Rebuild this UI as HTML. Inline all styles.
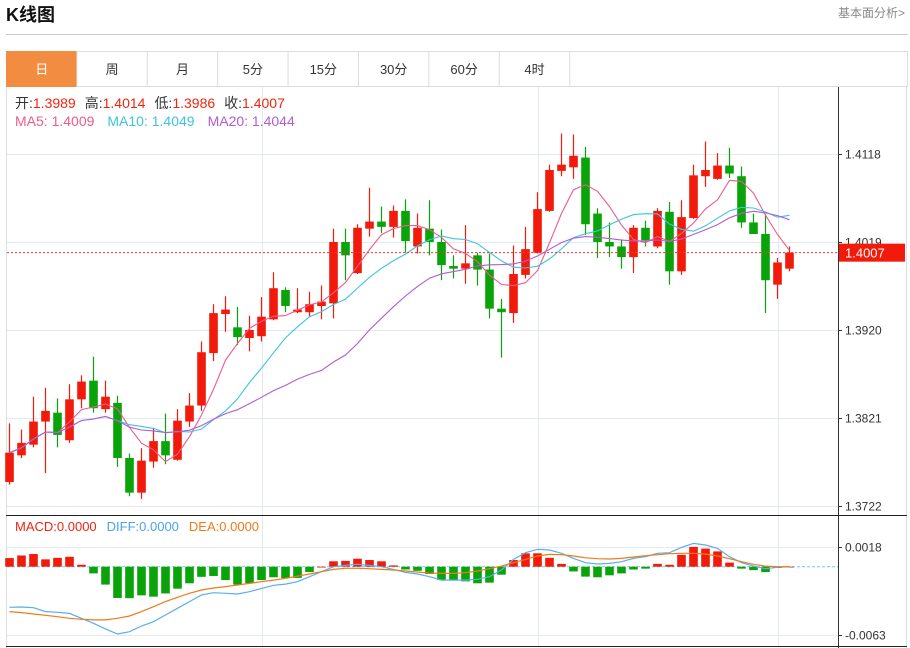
<!DOCTYPE html>
<html><head><meta charset="utf-8"><style>
body{margin:0;width:910px;height:648px;overflow:hidden;background:#fff;font-family:"Liberation Sans","Noto Sans CJK SC",sans-serif;}
svg{display:block}
</style></head><body>
<svg id="c" width="910" height="648" xmlns="http://www.w3.org/2000/svg">
<text x="6" y="21" font-size="18" font-weight="bold" fill="#111" font-family="Liberation Sans, Noto Sans CJK SC, sans-serif">K线图</text>
<text x="905" y="17" font-size="12" fill="#888" text-anchor="end" font-family="Liberation Sans, Noto Sans CJK SC, sans-serif">基本面分析&gt;</text>
<line x1="6" y1="34.5" x2="908" y2="34.5" stroke="#ccc"/>
<g id="tabs"></g>
<g id="grid"></g>
<g id="main"></g>
<g id="macd"></g>
<g id="legend" font-family="Liberation Sans, Noto Sans CJK SC, sans-serif">
<text x="15" y="108" font-size="14"><tspan fill="#333">开:</tspan><tspan fill="#f0250f">1.3989</tspan><tspan fill="#333" dx="9">高:</tspan><tspan fill="#f0250f">1.4014</tspan><tspan fill="#333" dx="9">低:</tspan><tspan fill="#f0250f">1.3986</tspan><tspan fill="#333" dx="9">收:</tspan><tspan fill="#f0250f">1.4007</tspan></text>
<text x="15" y="126" font-size="14"><tspan fill="#ee5a8c">MA5: 1.4009</tspan><tspan fill="#3cc4de" dx="13">MA10: 1.4049</tspan><tspan fill="#b35cce" dx="13">MA20: 1.4044</tspan></text>
<text x="15" y="531" font-size="13"><tspan fill="#f0250f">MACD:0.0000</tspan><tspan fill="#4aa3f0" dx="10">DIFF:0.0000</tspan><tspan fill="#f07a1a" dx="10">DEA:0.0000</tspan></text>
</g>
</svg>
<script>
const opens=[1.3749,1.3779,1.3791,1.3817,1.3827,1.3796,1.3842,1.3863,1.3831,1.3838,1.3776,1.3737,1.3772,1.3795,1.3774,1.3817,1.3835,1.3894,1.3938,1.3923,1.3911,1.3913,1.3932,1.3965,1.3940,1.3940,1.3947,1.3950,1.4019,1.3984,1.4034,1.4042,1.4036,1.4054,1.4014,1.4034,1.4019,1.3992,1.3989,1.4004,1.3988,1.3944,1.3939,1.3982,1.4007,1.4054,1.4099,1.4103,1.4114,1.4051,1.4019,1.4014,1.4002,1.4035,1.4014,1.4053,1.3986,1.4046,1.4093,1.4090,1.4105,1.4093,1.4041,1.4028,1.3971,1.3989];
const closes=[1.3782,1.3793,1.3817,1.3829,1.3802,1.3842,1.3862,1.3832,1.3845,1.3776,1.3737,1.3773,1.3795,1.3779,1.3818,1.3835,1.3895,1.3939,1.3943,1.3912,1.3920,1.3935,1.3967,1.3947,1.3943,1.3949,1.3952,1.4019,1.4004,1.4035,1.4042,1.4036,1.4054,1.4020,1.4035,1.4019,1.3993,1.3989,1.3995,1.3988,1.3944,1.3940,1.3983,1.4011,1.4056,1.4100,1.4106,1.4116,1.4039,1.4019,1.4014,1.4002,1.4035,1.4021,1.4054,1.3986,1.4047,1.4094,1.4100,1.4105,1.4096,1.4041,1.4028,1.3976,1.3996,1.4007];
const highs=[1.3815,1.3808,1.3845,1.3855,1.3843,1.3859,1.3869,1.3890,1.3863,1.3846,1.3781,1.3787,1.3810,1.3826,1.3831,1.3849,1.3907,1.3949,1.3958,1.3946,1.3936,1.3957,1.3985,1.3968,1.3967,1.3963,1.3970,1.4034,1.4034,1.4039,1.4080,1.4059,1.4060,1.4067,1.4051,1.4066,1.4033,1.4004,1.4038,1.4007,1.4006,1.3955,1.4015,1.4036,1.4075,1.4106,1.4141,1.4140,1.4126,1.4057,1.4041,1.4022,1.4038,1.4043,1.4057,1.4064,1.4066,1.4106,1.4132,1.4119,1.4125,1.4104,1.4051,1.4050,1.4001,1.4014];
const lows=[1.3746,1.3776,1.3788,1.3759,1.3788,1.3793,1.3832,1.3827,1.3827,1.3766,1.3733,1.3730,1.3765,1.3769,1.3773,1.3811,1.3829,1.3885,1.3918,1.3903,1.3896,1.3907,1.3931,1.3940,1.3939,1.3935,1.3932,1.3933,1.3976,1.3983,1.4025,1.4029,1.4024,1.4007,1.4006,1.4004,1.3976,1.3978,1.3972,1.3970,1.3933,1.3889,1.3928,1.3978,1.4006,1.4053,1.4093,1.4090,1.4027,1.4001,1.4002,1.3989,1.3984,1.4014,1.4012,1.3971,1.3982,1.4045,1.4081,1.4089,1.4091,1.4035,1.4028,1.3939,1.3955,1.3986];
const diffs=[-0.00377,-0.00374,-0.00380,-0.00417,-0.00423,-0.00433,-0.00479,-0.00525,-0.00577,-0.00624,-0.00603,-0.00550,-0.00510,-0.00448,-0.00386,-0.00324,-0.00263,-0.00241,-0.00247,-0.00253,-0.00232,-0.00201,-0.00173,-0.00161,-0.00139,-0.00093,-0.00046,0.00000,0.00012,0.00022,0.00012,0.00000,-0.00025,-0.00053,-0.00068,-0.00093,-0.00124,-0.00124,-0.00124,-0.00117,-0.00093,-0.00031,0.00068,0.00130,0.00161,0.00155,0.00124,0.00077,0.00037,0.00025,0.00031,0.00046,0.00077,0.00093,0.00124,0.00130,0.00179,0.00216,0.00201,0.00170,0.00093,0.00037,0.00006,-0.00019,-0.00006,0.00000];
const deas=[-0.00417,-0.00426,-0.00439,-0.00451,-0.00464,-0.00479,-0.00488,-0.00494,-0.00494,-0.00479,-0.00457,-0.00417,-0.00371,-0.00324,-0.00284,-0.00247,-0.00216,-0.00198,-0.00185,-0.00170,-0.00155,-0.00139,-0.00124,-0.00108,-0.00087,-0.00068,-0.00046,-0.00025,-0.00015,-0.00015,-0.00019,-0.00025,-0.00031,-0.00040,-0.00049,-0.00059,-0.00062,-0.00062,-0.00056,-0.00040,-0.00019,0.00006,0.00037,0.00068,0.00099,0.00114,0.00111,0.00099,0.00083,0.00074,0.00071,0.00077,0.00090,0.00102,0.00111,0.00121,0.00124,0.00124,0.00117,0.00099,0.00074,0.00046,0.00022,0.00006,0.00000,0.00000];
const priceTicks=[1.4118,1.4019,1.3920,1.3821,1.3722];
const macdTicks=[0.0018,-0.0063];
const tabLabels=["日","周","月","5分","15分","30分","60分","4时"];
const lastPrice=1.4007;

const NS="http://www.w3.org/2000/svg";
function mk(parent,tag,attrs,txt){const e=document.createElementNS(NS,tag);for(const k in attrs)e.setAttribute(k,attrs[k]);if(txt!==undefined)e.textContent=txt;parent.appendChild(e);return e;}
const xOf=i=>9.5+12*i;
const yP=p=>154+(1.4118-p)/0.0099*88;
const yM=v=>566.7-v*10778;
const RED="#f21a0a",GREEN="#0aa30a";

const tabs=document.getElementById('tabs');
const tb=mk(tabs,'rect',{x:6.5,y:51.5,width:901,height:35,fill:'#fff',stroke:'#ddd'});


tabLabels.forEach((t,i)=>{
  const g=mk(tabs,'g',{});
  
  
  const x=6.5+70.4*i;
  mk(g,'rect',{x:x,y:51.5,width:70.4,height:35,fill:i===0?'#f28c40':'#fff',stroke:i===0?'#f28c40':'#ddd'});
  mk(g,'text',{x:x+35.2,y:74,'font-size':13,'text-anchor':'middle',fill:i===0?'#fff':'#333','font-family':'Liberation Sans, Noto Sans CJK SC, sans-serif'},t);
});

const grid=document.getElementById('grid');
mk(grid,'line',{x1:6.5,y1:87,x2:6.5,y2:648,stroke:'#ddd'});
mk(grid,'line',{x1:906.5,y1:87,x2:906.5,y2:648,stroke:'#ddd'});
[262,538,778].forEach(x=>{mk(grid,'line',{x1:x+.5,y1:87,x2:x+.5,y2:646,stroke:'#e2eaf0'});});
priceTicks.forEach(p=>{
  const y=Math.round(yP(p))+.5;
  mk(grid,'line',{x1:7,y1:y,x2:838,y2:y,stroke:'#e2eaf0'});
  mk(grid,'line',{x1:838,y1:y,x2:842,y2:y,stroke:'#333'});
  const t=mk(grid,'text',{x:845,y:y+4,'font-size':12,fill:'#333'},p.toFixed(4));
  
  
});
macdTicks.forEach(v=>{
  const y=Math.round(yM(v))+.5;
  mk(grid,'line',{x1:7,y1:y,x2:838,y2:y,stroke:'#e2eaf0'});
  mk(grid,'line',{x1:838,y1:y,x2:842,y2:y,stroke:'#333'});
  const t=mk(grid,'text',{x:845,y:y+4,'font-size':12,fill:'#333'},v.toFixed(4));
  
  
});
mk(grid,'line',{x1:838.5,y1:87,x2:838.5,y2:648,stroke:'#333'});
mk(grid,'line',{x1:6,y1:515.5,x2:907,y2:515.5,stroke:'#222'});
mk(grid,'line',{x1:6,y1:646.5,x2:907,y2:646.5,stroke:'#222'});

const main=document.getElementById('main');
function ma(n){return closes.map((c,i)=>{const s=Math.max(0,i-n+1);let t=0;for(let j=s;j<=i;j++)t+=closes[j];return t/(i-s+1);});}
closes.forEach((c,i)=>{
  const o=opens[i],up=c>=o,col=up?RED:GREEN,x=xOf(i);
  const g=mk(main,'g',{});
  
  
  mk(g,'line',{x1:x,y1:yP(highs[i]),x2:x,y2:yP(lows[i]),stroke:col,'stroke-width':1.2});
  const t=yP(Math.max(o,c)),b=yP(Math.min(o,c));
  mk(g,'rect',{x:x-4.3,y:t,width:8.6,height:Math.max(1.5,b-t),fill:col});
});
[[5,'#ee5a8c','ma5-line'],[10,'#3cc4de','ma10-line'],[20,'#b35cce','ma20-line']].forEach(([n,col,name])=>{
  const m=ma(n);
  const p=mk(main,'polyline',{points:m.map((v,i)=>xOf(i)+','+yP(v).toFixed(1)).join(' '),fill:'none',stroke:col,'stroke-width':1.1});
  
  
});
const ly=yP(lastPrice);
const dl=mk(main,'line',{x1:7,y1:ly,x2:838,y2:ly,stroke:'#f0362d','stroke-dasharray':'2,2'});


const lb=mk(main,'rect',{x:839,y:ly-9,width:66,height:18,fill:'#f21a0a'});


mk(main,'text',{x:845,y:ly+5,'font-size':13,fill:'#fff'},lastPrice.toFixed(4));

const mg=document.getElementById('macd');
const zl=mk(mg,'line',{x1:7,y1:yM(0),x2:838,y2:yM(0),stroke:'#6cc9e6','stroke-dasharray':'3,2'});


diffs.forEach((d,i)=>{
  const h=2*(d-deas[i]);
  const y0=yM(0),y1=yM(h);
  const r=mk(mg,'rect',{x:xOf(i)-4.3,y:Math.min(y0,y1),width:8.6,height:Math.max(0.8,Math.abs(y1-y0)),fill:h>=0?RED:GREEN});
  
  
});
[[diffs,'#58aef0','diff-line'],[deas,'#f07a1a','dea-line']].forEach(([arr,col,name])=>{
  const p=mk(mg,'polyline',{points:arr.map((v,i)=>xOf(i)+','+yM(v).toFixed(1)).join(' '),fill:'none',stroke:col,'stroke-width':1.2});
  
  
});
</script>
</body></html>
